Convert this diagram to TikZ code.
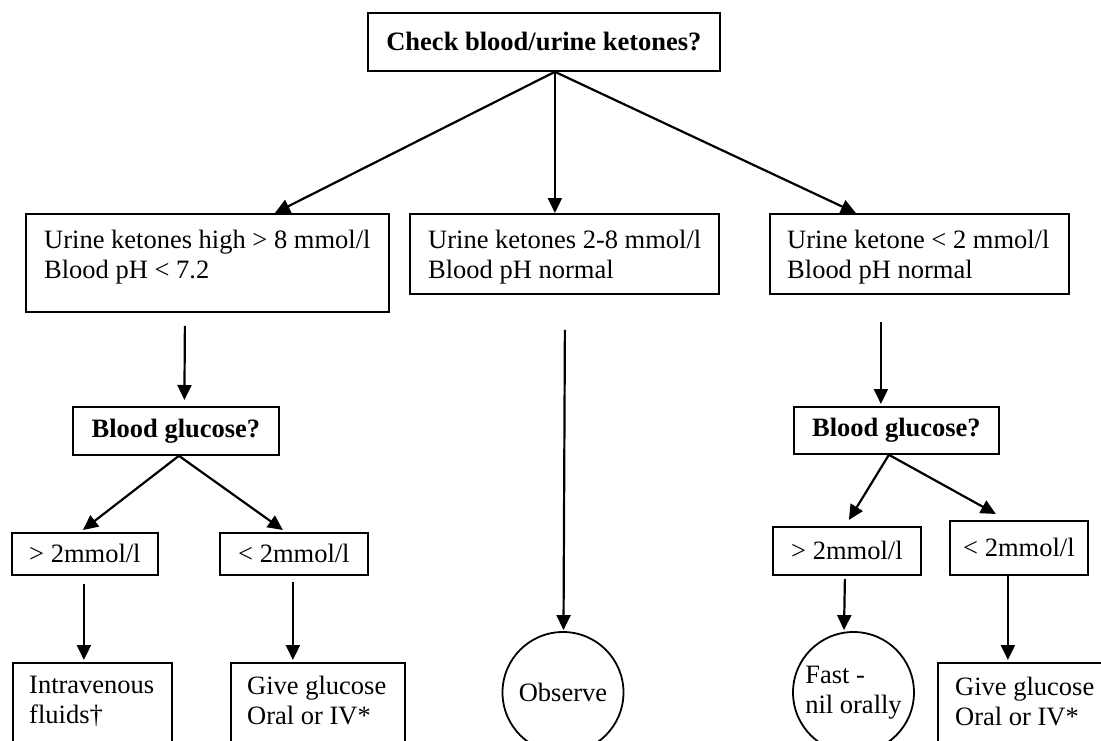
\documentclass[tikz,border=0pt]{standalone}
\usepackage{fontspec}
\setmainfont{Liberation Serif}
\usetikzlibrary{arrows.meta}
\newcommand\fsz{\fontsize{26.5}{29.5}\selectfont}
\begin{document}
\begin{tikzpicture}[x=1pt,y=-1pt,
  every node/.style={font=\fsz},
  box/.style={draw, line width=1.8pt, inner sep=0pt, anchor=north west},
  bbox/.style={box, font=\fsz\bfseries},
  txt/.style={inner sep=0pt, anchor=north west, align=left},
  arr/.style={line width=2.2pt, -{Triangle[length=15pt,width=14pt]}},
  circ/.style={draw, circle, line width=1.8pt, minimum size=121pt, inner sep=0pt, align=left}]
\useasboundingbox (0,0) rectangle (1101,740);
\clip (0,0) rectangle (1101,740);

% top
\node[bbox, minimum width=352pt, minimum height=58pt] (top) at (367,12) {Check blood/urine ketones?};

% ketone row
\node[box, minimum width=363pt, minimum height=98pt] (k1) at (25,213) {};
\node[txt] (k1t) at ([shift={(19,17)}]k1.north west) {Urine ketones high > 8 mmol/l\\Blood pH < 7.2};
\node[box, minimum width=309pt, minimum height=80pt] (k2) at (409,213) {};
\node[txt] (k2t) at ([shift={(19,17)}]k2.north west) {Urine ketones 2-8 mmol/l\\Blood pH normal};
\node[box, minimum width=299pt, minimum height=80pt] (k3) at (769,213) {};
\node[txt] (k3t) at ([shift={(18,17)}]k3.north west) {Urine ketone < 2 mmol/l\\Blood pH normal};

% blood glucose
\node[bbox, minimum width=206pt, minimum height=48pt] (bg1) at (72,406) {Blood glucose?};
\node[bbox, minimum width=205pt, minimum height=47pt] (bg2) at (793,406) {Blood glucose?};

% thresholds
\node[box, minimum width=146pt, minimum height=42pt] (gt1) at (11,532) {> 2mmol/l};
\node[box, minimum width=148pt, minimum height=42pt] (lt1) at (219,532) {< 2mmol/l};
\node[box, minimum width=148pt, minimum height=48pt] (gt2) at (772,526) {> 2mmol/l};
\node[box, minimum width=138pt, minimum height=54pt] (lt2) at (949,520) {< 2mmol/l};

% outcomes
\node[box, minimum width=159pt, minimum height=100pt] (iv) at (12,662) {};
\node[txt] (ivt) at ([shift={(17,14)}]iv.north west) {Intravenous\\fluids†};
\node[box, minimum width=174pt, minimum height=100pt] (gg1) at (230,662) {};
\node[txt] (gg1t) at ([shift={(17,14)}]gg1.north west) {Give glucose\\Oral or IV*};
\node[box, minimum width=200pt, minimum height=100pt] (gg2) at (937,662) {};
\node[txt] (gg2t) at ([shift={(18,15)}]gg2.north west) {Give glucose\\Oral or IV*};
\node[circ] (obs) at (563,692.5) {Observe};
\node[circ] (fast) at (853.5,692.5) {Fast -\\nil orally};

% connectors
\draw[arr] ([shift={(11,0)}]top.south) -- ([shift={(67.5,0)}]k1.north);
\draw[arr] ([shift={(11,0)}]top.south) -- ([shift={(-9.5,0)}]k2.north);
\draw[arr] ([shift={(11,0)}]top.south) -- ([shift={(-63.5,0)}]k3.north);

\draw[arr] ([shift={(-22.5,13)}]k1.south) -- ([shift={(8.5,-6)}]bg1.north);
\draw[arr] ([shift={(0.5,35)}]k2.south) -- ([shift={(0.5,-1)}]obs.north);
\draw[arr] ([shift={(-38.5,27)}]k3.south) -- ([shift={(-15.5,-2)}]bg2.north);

\draw[arr] ([shift={(3,0)}]bg1.south) -- ([shift={(-2,-2)}]gt1.north);
\draw[arr] ([shift={(3,0)}]bg1.south) -- ([shift={(-11,-2)}]lt1.north);
\draw[arr] ([shift={(-7.5,0)}]bg2.south) -- ([shift={(2,-6)}]gt2.north);
\draw[arr] ([shift={(-7.5,0)}]bg2.south) -- ([shift={(-23,-6)}]lt2.north);

\draw[arr] ([shift={(-1,8)}]gt1.south) -- ([shift={(-8.5,-2)}]iv.north);
\draw[arr] ([shift={(-1,6)}]lt1.south) -- ([shift={(-25,-2)}]gg1.north);
\draw[arr] ([shift={(-2,3)}]gt2.south) -- ([shift={(-9.5,-1)}]fast.north);
\draw[arr] ([shift={(-11,0)}]lt2.south) -- ([shift={(-30,-2)}]gg2.north);
\end{tikzpicture}
\end{document}
